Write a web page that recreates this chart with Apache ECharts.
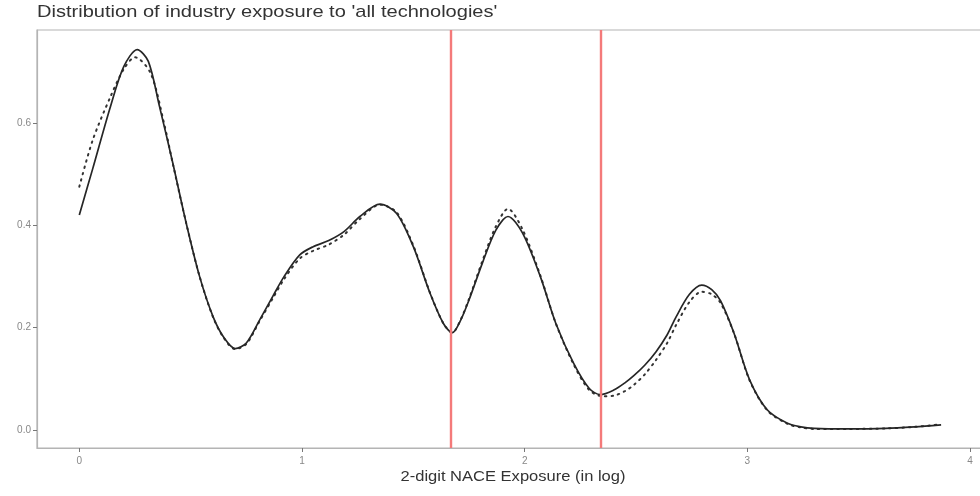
<!DOCTYPE html>
<html>
<head>
<meta charset="utf-8">
<script src="https://cdn.jsdelivr.net/npm/echarts@6/dist/echarts.min.js"></script>
<style>
  html, body { margin: 0; padding: 0; background: #fff; }
  #chart { width: 980px; height: 496px; }
</style>
</head>
<body>
<div id="chart"></div>
<script>
// Kernel density of log exposure, two estimates
const densityMain = [
  [0.00, 0.420], [0.06, 0.510], [0.14, 0.632], [0.20, 0.710], [0.26, 0.743],
  [0.31, 0.720], [0.36, 0.632], [0.42, 0.521], [0.48, 0.404], [0.54, 0.300],
  [0.60, 0.222], [0.65, 0.180], [0.70, 0.159], [0.75, 0.170], [0.81, 0.215],
  [0.87, 0.262], [0.92, 0.300], [0.99, 0.342], [1.05, 0.358], [1.12, 0.370],
  [1.19, 0.388], [1.26, 0.417], [1.35, 0.441], [1.425, 0.423], [1.50, 0.358],
  [1.575, 0.267], [1.635, 0.208], [1.675, 0.190], [1.71, 0.212], [1.75, 0.254],
  [1.81, 0.326], [1.87, 0.390], [1.925, 0.417], [1.99, 0.385], [2.07, 0.300],
  [2.14, 0.208], [2.22, 0.130], [2.29, 0.081], [2.34, 0.069], [2.40, 0.078],
  [2.45, 0.092], [2.49, 0.106], [2.54, 0.127], [2.59, 0.153], [2.64, 0.186],
  [2.68, 0.221], [2.74, 0.265], [2.795, 0.283], [2.84, 0.274], [2.88, 0.252],
  [2.94, 0.189], [3.01, 0.098], [3.09, 0.039], [3.18, 0.013], [3.24, 0.006],
  [3.30, 0.003], [3.45, 0.002], [3.62, 0.003], [3.75, 0.006], [3.87, 0.010]
];

const densityAlt = [
  [0.00, 0.475], [0.06, 0.566], [0.14, 0.651], [0.20, 0.705], [0.25, 0.728],
  [0.32, 0.697], [0.38, 0.600], [0.42, 0.520], [0.48, 0.404], [0.54, 0.300],
  [0.60, 0.221], [0.65, 0.179], [0.70, 0.158], [0.75, 0.168], [0.81, 0.213],
  [0.87, 0.258], [0.92, 0.295], [0.99, 0.335], [1.05, 0.350], [1.12, 0.362],
  [1.19, 0.382], [1.26, 0.412], [1.35, 0.440], [1.425, 0.425], [1.50, 0.360],
  [1.575, 0.268], [1.635, 0.208], [1.675, 0.190], [1.71, 0.213], [1.75, 0.256],
  [1.81, 0.330], [1.87, 0.397], [1.925, 0.432], [1.99, 0.392], [2.07, 0.302],
  [2.14, 0.208], [2.22, 0.128], [2.29, 0.078], [2.35, 0.066], [2.40, 0.067],
  [2.45, 0.076], [2.49, 0.088], [2.54, 0.109], [2.59, 0.137], [2.64, 0.170],
  [2.68, 0.205], [2.74, 0.250], [2.795, 0.270], [2.84, 0.265], [2.88, 0.248],
  [2.94, 0.189], [3.01, 0.097], [3.09, 0.038], [3.18, 0.012], [3.24, 0.005],
  [3.30, 0.002], [3.45, 0.002], [3.62, 0.003], [3.75, 0.006], [3.87, 0.011]
];

// Cut-off thresholds (vertical reference lines)
const thresholds = [1.674, 2.338];

const xTicks = [0, 1, 2, 3, 4];
const yTicks = [0.0, 0.2, 0.4, 0.6];

const titleText = "Distribution of industry exposure to 'all technologies'";
const xAxisTitle = '2-digit NACE Exposure (in log)';

const chart = echarts.init(document.getElementById('chart'), null, { renderer: 'canvas' });

const font = 'Liberation Sans, Arial, Helvetica, sans-serif';
const frameColor = '#b4b4b4';

chart.setOption({
  animation: false,
  backgroundColor: '#fff',
  graphic: [
    {
      type: 'text',
      left: 37, top: 4,
      scaleX: 1.18,
      style: { text: titleText, fontFamily: font, fontSize: 17, fill: '#333' }
    },
    {
      type: 'text',
      x: 513, y: 477,
      scaleX: 1.18,
      style: {
        text: xAxisTitle, fontFamily: font, fontSize: 14, fill: '#333',
        align: 'center', verticalAlign: 'middle'
      }
    }
  ],
  grid: {
    left: 37, top: 30, width: 960, height: 418,
    outerBoundsMode: 'none',
    containLabel: false,
    show: true, borderColor: frameColor, borderWidth: 1.2, backgroundColor: '#fff'
  },
  xAxis: {
    type: 'value',
    min: -0.19, max: 4.121,
    splitLine: { show: false },
    axisLine: { show: true, onZero: false, lineStyle: { color: frameColor, width: 1.2 } },
    axisTick: { show: true, length: 4, customValues: xTicks, lineStyle: { color: '#777', width: 1 } },
    axisLabel: {
      customValues: xTicks, margin: 8,
      fontFamily: font, fontSize: 10, color: '#888',
      formatter: v => String(v)
    }
  },
  yAxis: {
    type: 'value',
    min: -0.0352, max: 0.78125,
    splitLine: { show: false },
    axisLine: { show: true, onZero: false, lineStyle: { color: frameColor, width: 1.2 } },
    axisTick: { show: true, length: 4, customValues: yTicks, lineStyle: { color: '#777', width: 1 } },
    axisLabel: {
      customValues: yTicks, margin: 6,
      fontFamily: font, fontSize: 10, color: '#888',
      formatter: v => v.toFixed(1)
    }
  },
  series: [
    {
      type: 'line',
      data: densityAlt,
      smooth: 0.3,
      symbol: 'none',
      lineStyle: { color: '#333', width: 2, type: [1.5, 5], cap: 'round' },
      z: 3
    },
    {
      type: 'line',
      data: densityMain,
      smooth: 0.3,
      symbol: 'none',
      lineStyle: { color: '#262626', width: 1.7 },
      z: 4,
      markLine: {
        silent: true,
        symbol: 'none',
        label: { show: false },
        lineStyle: { color: '#f47a7a', width: 2.4, type: 'solid' },
        data: thresholds.map(v => ({ xAxis: v }))
      }
    }
  ]
});
</script>
</body>
</html>
